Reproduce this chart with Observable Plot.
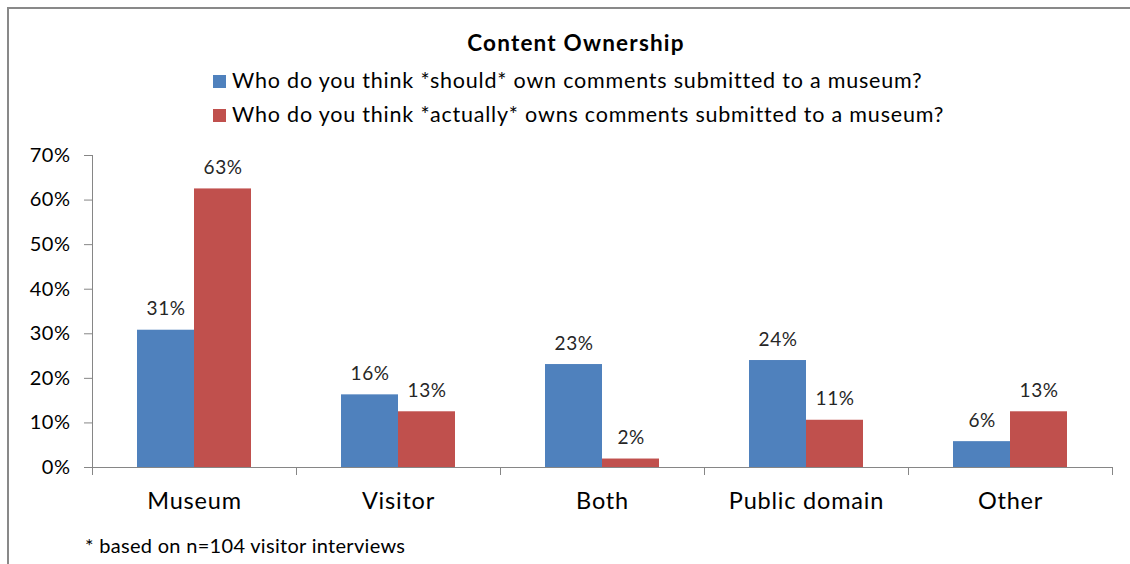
<!DOCTYPE html>
<html>
<head>
<meta charset="utf-8">
<script src="https://cdn.jsdelivr.net/npm/d3@7"></script>
<script src="https://cdn.jsdelivr.net/npm/@observablehq/plot@0.6"></script>
<style>
  html, body { margin: 0; padding: 0; background: #fff; }
  #wrap { position: relative; width: 1130px; height: 564px; overflow: hidden; font-family: Lato, "Open Sans", sans-serif; color: #000; }
  #border { position: absolute; left: 7px; top: 7px; width: 1200px; height: 700px; border-top: 2px solid #898989; border-left: 2px solid #898989; }
  #title { position: absolute; left: 11px; width: 1130px; top: 30px; text-align: center; font-weight: bold; font-size: 22.5px; line-height: 26px; letter-spacing: 1.2px; }
  .leg { position: absolute; left: 213px; font-size: 21.5px; line-height: 24px; white-space: nowrap; letter-spacing: 0.8px; }
  .sw { display: inline-block; width: 13px; height: 13px; margin-right: 6px; vertical-align: 0px; }
  #chart { position: absolute; left: 0; top: 140px; }
  #note { position: absolute; left: 85px; top: 534px; font-size: 20px; line-height: 22px; white-space: nowrap; letter-spacing: 0.3px; }
  #chart g[aria-label="fx-axis tick label"] text { letter-spacing: 0.8px; }
  #chart g[aria-label="y-axis tick label"] text { letter-spacing: 0.5px; }
  #chart g[aria-label="text"] text { letter-spacing: 0.5px; }
</style>
</head>
<body>
<div id="wrap">
  <div id="border"></div>
  <div id="title"></div>
  <div id="leg1" class="leg" style="top:68px"></div>
  <div id="leg2" class="leg" style="top:102px"></div>
  <div id="chart"></div>
  <div id="note"></div>
</div>
<script>
const title = "Content Ownership";
const categories = ["Museum", "Visitor", "Both", "Public domain", "Other"];
const seriesNames = [
  "Who do you think *should* own comments submitted to a museum?",
  "Who do you think *actually* owns comments submitted to a museum?"
];
const shouldValues = [0.308, 0.163, 0.231, 0.240, 0.058];
const actuallyValues = [0.625, 0.125, 0.019, 0.106, 0.125];
const yTicks = [0, 0.1, 0.2, 0.3, 0.4, 0.5, 0.6, 0.7];
const note = "* based on n=104 visitor interviews";
const colors = ["#4F81BD", "#C0504D"];

const data = [];
categories.forEach((c, i) => {
  data.push({category: c, series: seriesNames[0], value: shouldValues[i]});
  data.push({category: c, series: seriesNames[1], value: actuallyValues[i]});
});

document.getElementById("title").textContent = title;
[["leg1", 0], ["leg2", 1]].forEach(([id, k]) => {
  const el = document.getElementById(id);
  const sw = document.createElement("span");
  sw.className = "sw";
  sw.style.background = colors[k];
  el.appendChild(sw);
  el.appendChild(document.createTextNode(seriesNames[k]));
});
document.getElementById("note").textContent = note;

const axisColor = "#868686";
const plotH = 312;

const chart = Plot.plot({
  width: 1130,
  height: 395,
  marginTop: 15,
  marginBottom: 68,
  marginLeft: 90,
  marginRight: 17,
  style: {fontFamily: "Lato, 'Open Sans', sans-serif", background: "transparent", color: "#000"},
  fx: {domain: categories, padding: 0},
  x: {domain: seriesNames, paddingInner: 0, paddingOuter: 0.76, axis: null},
  y: {domain: [0, 0.7]},
  color: {domain: seriesNames, range: colors},
  marks: [
    Plot.barY(data, {fx: "category", x: "series", y: "value", fill: "series"}),
    Plot.ruleY([0], {stroke: axisColor, strokeWidth: 1}),
    Plot.frame({anchor: "left", stroke: axisColor, insetTop: plotH, insetBottom: -7}),
    Plot.frame({anchor: "right", stroke: axisColor, insetTop: plotH, insetBottom: -7}),
    Plot.frame({anchor: "left", stroke: axisColor, facetAnchor: "left", insetBottom: -7}),
    Plot.text(data, {fx: "category", x: "series", y: "value", text: d => d3.format(".0%")(d.value), dy: -21, fontSize: 19, fill: "#262626"}),
    Plot.axisY({ticks: yTicks, tickFormat: d3.format(".0%"), tickSize: 8, tickPadding: 14, label: null, fontSize: 20, stroke: axisColor}),
    Plot.axisFx({anchor: "bottom", tickSize: 0, tickPadding: 25, label: null, fontSize: 23.5})
  ]
});
document.getElementById("chart").appendChild(chart);
</script>
</body>
</html>
